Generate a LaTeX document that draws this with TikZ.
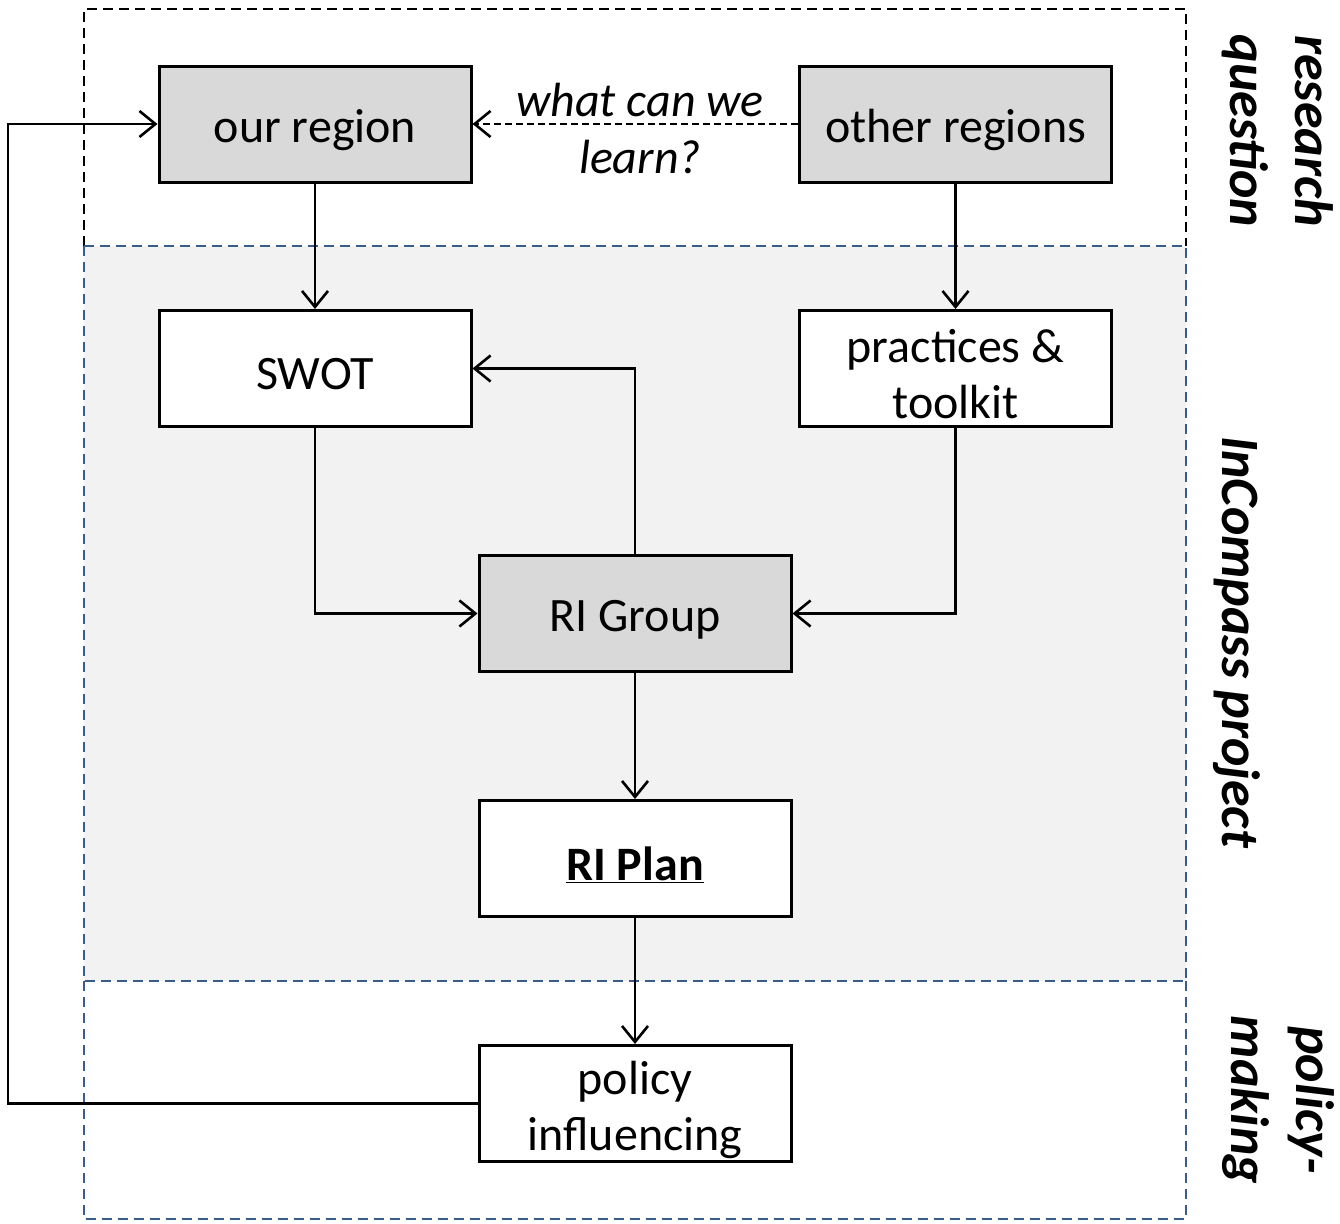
\documentclass[tikz,border=0pt]{standalone}
\usepackage{fontspec}
\setmainfont{Carlito}
\usetikzlibrary{arrows.meta}
\definecolor{frameblue}{RGB}{56,93,138}
\definecolor{boxgray}{RGB}{217,217,217}
\definecolor{zonegray}{RGB}{242,242,242}
\begin{document}
\begin{tikzpicture}[x=1pt,y=-1pt,
  every node/.style={font=\fontsize{48}{56}\selectfont},
  blk/.style={draw=black, line width=3pt, minimum width=312pt, minimum height=116pt, inner sep=0pt, anchor=center},
  graybox/.style={blk, fill=boxgray},
  whitebox/.style={blk, fill=white},
  txt/.style={align=center, yshift=-6pt, inner sep=0pt},
  conn/.style={draw=black, line width=2.4pt, -{Straight Barb[length=16pt,width=26pt,line width=2.6pt]}},
  zone/.style={dash pattern=on 10pt off 6pt, line width=2.8pt},
  sidelabel/.style={rotate=-90, font=\fontsize{54}{65}\selectfont\bfseries\itshape, align=center}]
\path[use as bounding box] (0,0) rectangle (1340,1223);
% zones
\fill[zonegray] (84,246) rectangle (1186,981);
\draw[zone, draw=black] (84,246) -- (84,9) -- (1186,9) -- (1186,246);
\draw[zone, draw=frameblue] (84,246) rectangle (1186,981);
\draw[zone, draw=frameblue] (84,981) -- (84,1219) -- (1186,1219) -- (1186,981);
% nodes
\node[graybox, label={[txt]center:our region}] (our) at (315,124) {};
\node[graybox, label={[txt]center:other regions}] (other) at (955.5,124) {};
\node[whitebox, label={[txt]center:SWOT}] (swot) at (315,368.5) {};
\node[whitebox, label={[txt]center:practices \&\\toolkit}] (prac) at (955.5,368.5) {};
\node[graybox, label={[txt]center:RI Group}] (rig) at (635,613.5) {};
\node[whitebox, label={[txt]center:\textbf{\underline{RI Plan}}}] (rip) at (635,858.5) {};
\node[whitebox, label={[txt]center:policy\\influencing}] (pol) at (635,1103.5) {};
\coordinate (loopL) at (8,1103.5);
% labels
\node[font=\fontsize{48}{57}\selectfont\itshape, align=center] (q) at (640,128) {what can we\\learn?};
\node[sidelabel] (lab1) at (1278,131) {research\\question};
\node[sidelabel] (lab2) at (1237,642) {InCompass project};
\node[sidelabel] (lab3) at (1278,1100) {policy-\\making};
% connectors
\draw[conn, dash pattern=on 7pt off 4pt] (other.west) -- (our.east);
\draw[conn] (our.south) -- (swot.north);
\draw[conn] (other.south) -- (prac.north);
\draw[conn] (swot.south) |- (rig.west);
\draw[conn] (prac.south) |- (rig.east);
\draw[conn] (rig.north) |- (swot.east);
\draw[conn] (rig.south) -- (rip.north);
\draw[conn] (rip.south) -- (pol.north);
\draw[conn] (pol.west) -- (loopL) |- (our.west);
\end{tikzpicture}
\end{document}
